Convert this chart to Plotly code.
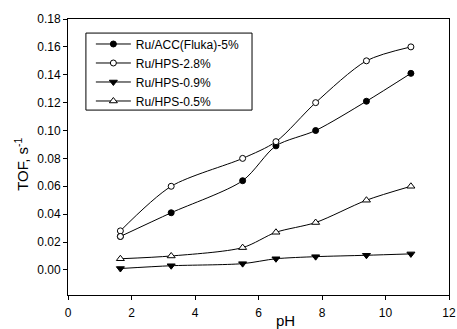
import plotly.graph_objects as go

ph = [1.65, 3.25, 5.5, 6.55, 7.8, 9.4, 10.8]
acc_5 = [0.024, 0.041, 0.064, 0.089, 0.100, 0.121, 0.141]
hps_28 = [0.028, 0.060, 0.080, 0.092, 0.120, 0.150, 0.160]
hps_09 = [0.001, 0.003, 0.0045, 0.008, 0.0095, 0.0105, 0.0115]
hps_05 = [0.008, 0.010, 0.016, 0.027, 0.034, 0.050, 0.060]

names = ["Ru/ACC(Fluka)-5%", "Ru/HPS-2.8%", "Ru/HPS-0.9%", "Ru/HPS-0.5%"]
series = [acc_5, hps_28, hps_09, hps_05]
symbols = ["circle", "circle", "triangle-down", "triangle-up"]
fills = ["black", "white", "black", "white"]
sizes = [6, 6, 7, 7]

FONT = "Liberation Sans, Arial"

fig = go.Figure()
for name, ys, sym, fc, sz in zip(names, series, symbols, fills, sizes):
    fig.add_trace(go.Scatter(
        x=ph, y=ys, name=name, mode="lines+markers",
        line=dict(color="black", width=1, shape="spline", smoothing=0.8),
        marker=dict(symbol=sym, size=sz, color=fc, line=dict(color="black", width=1)),
    ))
# first ACC point is drawn open in the original
fig.add_trace(go.Scatter(
    x=ph[:1], y=acc_5[:1], mode="markers", showlegend=False, hoverinfo="skip",
    marker=dict(symbol="circle", size=6, color="white", line=dict(color="black", width=1)),
))

axis_common = dict(
    showline=True, linecolor="black", linewidth=1, mirror=True,
    ticks="outside", ticklen=4, tickcolor="black", tickwidth=1,
    showgrid=False, zeroline=False, automargin=False,
    tickfont=dict(family=FONT, size=12, color="black"),
)

fig.update_layout(
    width=457, height=329,
    margin=dict(l=68, r=8, t=19, b=34),
    paper_bgcolor="white", plot_bgcolor="white",
    font=dict(family=FONT, color="black"),
    xaxis=dict(range=[0, 12], tickvals=[0, 2, 4, 6, 8, 10, 12],
               ticklabelstandoff=3, **axis_common),
    yaxis=dict(range=[-0.018, 0.18], tickvals=[0, 0.02, 0.04, 0.06, 0.08, 0.10, 0.12, 0.14, 0.16, 0.18],
               tickformat=".2f", **axis_common),
    showlegend=True,
    legend=dict(x=0.060, y=0.962, xanchor="left", yanchor="top",
                borderwidth=0, bgcolor="rgba(0,0,0,0)",
                font=dict(size=12, family=FONT, color="black"),
                itemwidth=35, tracegroupgap=0),
    shapes=[dict(type="rect", xref="paper", yref="paper",
                 x0=0.047, x1=0.483, y0=0.67, y1=0.949,
                 line=dict(color="black", width=1), fillcolor="rgba(0,0,0,0)", layer="below")],
    annotations=[
        dict(text="pH", xref="paper", yref="paper", x=0.572, y=-0.094,
             xanchor="center", yanchor="middle", showarrow=False,
             font=dict(size=15, family=FONT, color="black")),
        dict(text="TOF, s<sup>-1</sup>", xref="paper", yref="paper", x=-0.121, y=0.475,
             xanchor="center", yanchor="middle", textangle=-90, showarrow=False,
             font=dict(size=15, family=FONT, color="black")),
    ],
)

fig.write_html("out.html", config={"displayModeBar": False},
               post_script="document.body.style.margin='0';document.body.style.overflow='hidden';")
